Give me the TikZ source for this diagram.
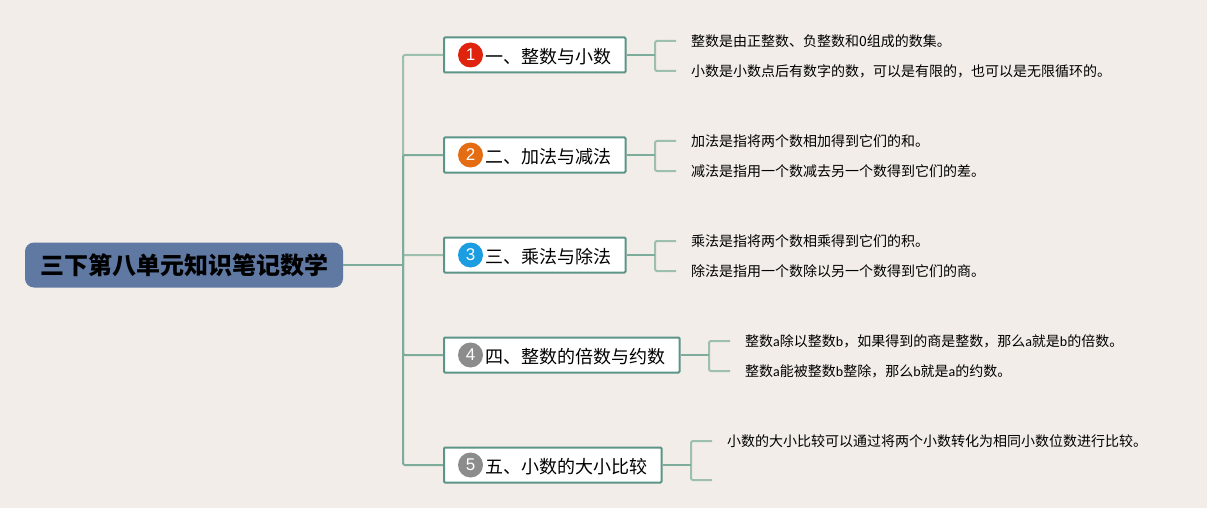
\documentclass[tikz,border=0pt]{standalone}
\usepackage{fontspec}
\usepackage{xcolor}
\setmainfont{Noto Sans CJK SC}
\setsansfont{Liberation Sans}
\newfontfamily\latinfont{Carlito}
\definecolor{papercolor}{HTML}{f2ede8}
\definecolor{rootcolor}{HTML}{5f79a3}
\definecolor{bordercolor}{HTML}{5c9488}
\definecolor{trunkcolor}{HTML}{7dab9c}
\definecolor{twigcolor}{HTML}{9cbfae}
\definecolor{badgeone}{HTML}{e0230d}
\definecolor{badgetwo}{HTML}{e46c12}
\definecolor{badgethree}{HTML}{1b9de2}
\definecolor{badgegrey}{HTML}{8c8c8c}
\tikzset{
    rootbox/.style = {fill = rootcolor, rectangle, rounded corners = 9pt, minimum width = 318pt, minimum height = 45pt, inner sep = 0pt, text height = 22.1pt, text depth = 2.9pt, font = \fontsize{24pt}{26pt}\selectfont\bfseries},
    topicbox/.style = {fill = white, draw = bordercolor, line width = 2pt, rectangle, rounded corners = 1pt, minimum height = 35pt, inner sep = 0pt, anchor = west, text height = 19.8pt, text depth = 2.2pt, execute at begin node = \hspace{41pt}, execute at end node = \hspace{14.5pt}, font = \fontsize{18pt}{20pt}\selectfont},
    badge/.style = {circle, minimum size = 25pt, inner sep = 0pt, text = white, font = \sffamily\fontsize{17pt}{18pt}\selectfont},
    leaf/.style = {anchor = west, inner xsep = 15pt, inner ysep = 0pt, text height = 13.3pt, text depth = 1.7pt, font = \fontsize{14pt}{16pt}\selectfont},
    link/.style = {draw = trunkcolor, line width = 2pt, rounded corners = 2pt},
    twig/.style = {draw = twigcolor, line width = 2pt, rounded corners = 2pt}
}

\begin{document}
\begin{tikzpicture}
        % Page
        \fill [papercolor] (0pt, 0pt) rectangle (1207pt, -508pt);
        \useasboundingbox (0pt, 0pt) rectangle (1207pt, -508pt);
        % Root
        \node [rootbox] (root) at (184pt, -265pt) {三下第八单元知识笔记数学};
        \coordinate (trunk) at (403pt, -265pt);
        % Topics
        \node [topicbox] (one) at (443pt, -55pt) {一、整数与小数};
        \node [topicbox] (two) at (443pt, -155pt) {二、加法与减法};
        \node [topicbox] (three) at (443pt, -255pt) {三、乘法与除法};
        \node [topicbox] (four) at (443pt, -355pt) {四、整数的倍数与约数};
        \node [topicbox] (five) at (443pt, -465pt) {五、小数的大小比较};
        % Badges
        \node [badge, fill = badgeone] (b1) at (470.5pt, -55pt) {1};
        \node [badge, fill = badgetwo] (b2) at (470.5pt, -155pt) {2};
        \node [badge, fill = badgethree] (b3) at (470.5pt, -255pt) {3};
        \node [badge, fill = badgegrey] (b4) at (470.5pt, -355pt) {4};
        \node [badge, fill = badgegrey] (b5) at (470.5pt, -465pt) {5};
        % Leaves
        \node [leaf] (one1) at (676pt, -41pt) {整数是由正整数、负整数和0组成的数集。};
        \node [leaf] (one2) at (676pt, -71pt) {小数是小数点后有数字的数，可以是有限的，也可以是无限循环的。};
        \node [leaf] (two1) at (676pt, -141pt) {加法是指将两个数相加得到它们的和。};
        \node [leaf] (two2) at (676pt, -171pt) {减法是指用一个数减去另一个数得到它们的差。};
        \node [leaf] (three1) at (676pt, -241pt) {乘法是指将两个数相乘得到它们的积。};
        \node [leaf] (three2) at (676pt, -271pt) {除法是指用一个数除以另一个数得到它们的商。};
        \node [leaf] (four1) at (730pt, -341pt) {整数{\latinfont a}除以整数{\latinfont b}，如果得到的商是整数，那么{\latinfont a}就是{\latinfont b}的倍数。};
        \node [leaf] (four2) at (730pt, -371pt) {整数{\latinfont a}能被整数{\latinfont b}整除，那么{\latinfont b}就是{\latinfont a}的约数。};
        \node [leaf] (five1) at (712pt, -441pt) {小数的大小比较可以通过将两个小数转化为相同小数位数进行比较。};
        \coordinate (five2) at (712pt, -480pt);
        % Main links
        \draw [twig] (trunk) |- (one.west);
        \draw [twig] (trunk) |- (three.west);
        \draw [link] (trunk) |- (two.west);
        \draw [link] (trunk) |- (four.west);
        \draw [link] (trunk) |- (five.west);
        \draw [link] (root.east) -- (trunk);
        % Junctions
        \coordinate (jone) at (655pt, -55pt);
        \coordinate (jtwo) at (655pt, -155pt);
        \coordinate (jthree) at (655pt, -255pt);
        \coordinate (jfour) at (709pt, -355pt);
        \coordinate (jfive) at (691pt, -465pt);
        % Leaf links
        \draw [twig] (jone) |- (one1.west);
        \draw [twig] (jone) |- (one2.west);
        \draw [link] (one.east) -- (jone);
        \draw [twig] (jtwo) |- (two1.west);
        \draw [twig] (jtwo) |- (two2.west);
        \draw [link] (two.east) -- (jtwo);
        \draw [twig] (jthree) |- (three1.west);
        \draw [twig] (jthree) |- (three2.west);
        \draw [link] (three.east) -- (jthree);
        \draw [twig] (jfour) |- (four1.west);
        \draw [twig] (jfour) |- (four2.west);
        \draw [link] (four.east) -- (jfour);
        \draw [twig] (jfive) |- (five1.west);
        \draw [twig] (jfive) |- (five2);
        \draw [link] (five.east) -- (jfive);
    \end{tikzpicture}
\end{document}
